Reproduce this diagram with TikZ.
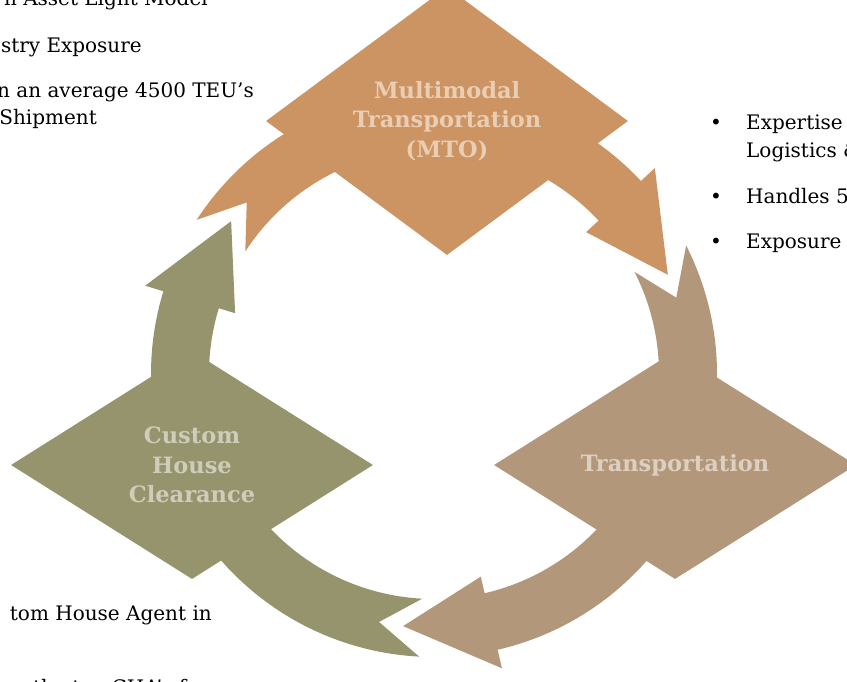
\documentclass[tikz,border=0pt]{standalone}
\usepackage{fontspec}
\setmainfont{DejaVu Serif}
\usetikzlibrary{shapes.geometric,calc}

\definecolor{mtofill}{RGB}{204,147,99}
\definecolor{mtotext}{RGB}{234,206,180}
\definecolor{trpfill}{RGB}{179,151,122}
\definecolor{trptext}{RGB}{222,208,193}
\definecolor{chcfill}{RGB}{150,148,108}
\definecolor{chctext}{RGB}{206,205,186}

\begin{document}
\begin{tikzpicture}[
    x=1pt, y=1pt,
    diamondbox/.style={diamond, minimum width=362pt, minimum height=228pt, inner sep=0pt, align=center, font=\fontsize{22.5}{29.5}\selectfont\bfseries},
    sidetext/.style={inner sep=0pt, font=\fontsize{20}{24}\selectfont, text=black}
]
\useasboundingbox (0,0) rectangle (847,-681);
\clip (0,0) rectangle (847,-681);

% Hub of the cycle
\coordinate (hub) at (434,-374);

% Circular arrows (tail notch, arc, head)
\foreach \k/\col in {0/mtofill, 1/trpfill, 2/chcfill} {
    \pgfmathsetmacro{\tail}{147-120*\k}
    \pgfmathsetmacro{\notch}{\tail-9.5}
    \pgfmathsetmacro{\head}{\tail-104}
    \pgfmathsetmacro{\tip}{\tail-124}
    \fill[fill=\col] ($(hub)+(\tail:283pt)$) arc[start angle=\tail, end angle=\head, radius=283pt]
        -- ($(hub)+(\head:302pt)$) -- ($(hub)+(\tip:254pt)$) -- ($(hub)+(\head:208pt)$) -- ($(hub)+(\head:225pt)$)
        arc[start angle=\head, end angle=\tail, radius=225pt] -- ($(hub)+(\notch:254pt)$) -- cycle;
}

% Steps
\node[diamondbox, fill=mtofill, text=mtotext] (mto) at (447,-121) {Multimodal\\Transportation\\(MTO)};
\node[diamondbox, fill=trpfill, text=trptext] (trp) at (675,-465) {Transportation};
\node[diamondbox, fill=chcfill, text=chctext] (chc) at (192,-465) {Custom\\House\\Clearance};

% Side texts, left
\node[sidetext, anchor=base east] (asset) at (208,-5) {n Asset Light Model};
\node[sidetext, anchor=base east] (expo) at (142,-52) {stry Exposure};
\node[sidetext, anchor=base east] (teu) at (254,-97) {n an average 4500 TEU’s};
\node[sidetext, anchor=base east] (ship) at (97,-124) {Shipment};

% Side texts, right
\node[sidetext, anchor=base] (b1) at (716,-129) {•};
\node[sidetext, anchor=base west] (exp) at (746,-129) {Expertise};
\node[sidetext, anchor=base west] (logi) at (746,-157) {Logistics \&};
\node[sidetext, anchor=base] (b2) at (716,-203) {•};
\node[sidetext, anchor=base west] (hand) at (746,-203) {Handles 5};
\node[sidetext, anchor=base] (b3) at (716,-248) {•};
\node[sidetext, anchor=base west] (expr) at (746,-248) {Exposure};

% Side texts, bottom
\node[sidetext, anchor=base east] (cha) at (212,-620) {tom House Agent in};
\node[sidetext, anchor=base west] (top) at (33,-694) {the top CHA’s f};

\end{tikzpicture}
\end{document}
